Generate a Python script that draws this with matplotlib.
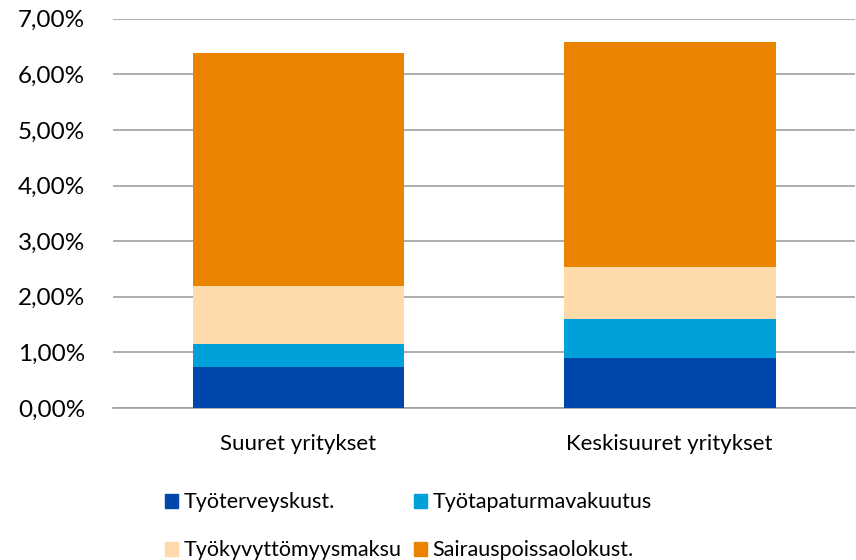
import numpy as np
import matplotlib.pyplot as plt
from matplotlib.ticker import FuncFormatter
from matplotlib.patches import Patch

# ---------------------------------------------------------------------------
# Data (percent of payroll)
# ---------------------------------------------------------------------------
categories = ["Suuret yritykset", "Keskisuuret yritykset"]
series_names = [
    "Työterveyskust.",
    "Työtapaturmavakuutus",
    "Työkyvyttömyysmaksu",
    "Sairauspoissaolokust.",
]
tyoterveys = [0.73, 0.90]
tyotapaturma = [0.42, 0.71]
tyokyvyttomyys = [1.04, 0.93]
sairauspoissa = [4.19, 4.05]
y_ticks = [0, 1, 2, 3, 4, 5, 6, 7]

colors = ["#0047AB", "#00A0DA", "#FFDAAB", "#E98300"]

plt.rcParams["font.family"] = ["Lato", "DejaVu Sans"]

fig = plt.figure(figsize=(8.56, 5.6), dpi=100)
ax = fig.add_axes([0.132, 0.2714, 0.867, 0.695])

x = np.arange(len(categories))
bottom = np.zeros(len(categories))
for vals, col in zip([tyoterveys, tyotapaturma, tyokyvyttomyys, sairauspoissa], colors):
    ax.bar(x, vals, width=0.571, bottom=bottom, color=col, edgecolor="none", zorder=3)
    bottom += np.asarray(vals)

ax.set_xlim(-0.5, 1.5)
ax.set_ylim(0, 7)
ax.set_yticks(y_ticks)
ax.yaxis.set_major_formatter(FuncFormatter(lambda v, _: f"{v:.2f}%".replace(".", ",")))
ax.set_xticks(x)
ax.set_xticklabels(categories)

ax.grid(axis="y", color="#a0a0a0", linewidth=1.2, zorder=0)
for side in ["top", "right", "left"]:
    ax.spines[side].set_visible(False)
ax.spines["bottom"].set_color("#a0a0a0")
ax.spines["bottom"].set_linewidth(1.2)
ax.tick_params(axis="both", length=0, colors="black")
ax.tick_params(axis="x", pad=19, labelsize=16)
ax.tick_params(axis="y", pad=20, labelsize=17.5)

# legend: matplotlib fills columns first, so reorder for row layout
handles = [Patch(color=c) for c in colors]
order = [0, 2, 1, 3]
fig.legend(
    [handles[i] for i in order],
    [series_names[i] for i in order],
    loc="center",
    bbox_to_anchor=(0.477, 0.06),
    ncol=2,
    frameon=False,
    fontsize=15.5,
    handlelength=0.6,
    handleheight=0.6,
    handletextpad=0.25,
    columnspacing=0.6,
    labelspacing=1.3,
)

fig.savefig("out.png", dpi=100)
